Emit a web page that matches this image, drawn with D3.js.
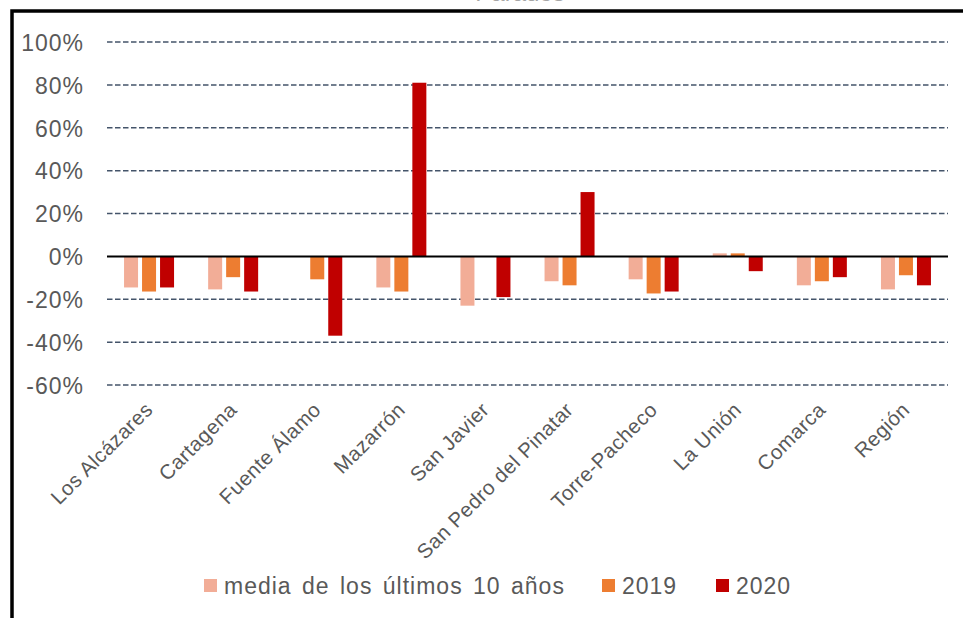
<!DOCTYPE html>
<html>
<head>
<meta charset="utf-8">
<script src="https://cdn.jsdelivr.net/npm/d3@7"></script>
<style>
  body { margin: 0; background: #fff; }
  svg { display: block; font-family: Arial, "Liberation Sans", sans-serif; }
</style>
</head>
<body>
<script>
// datos
var municipios = ["Los Alcázares", "Cartagena", "Fuente Álamo", "Mazarrón", "San Javier",
                  "San Pedro del Pinatar", "Torre-Pacheco", "La Unión", "Comarca", "Región"];
var series = ["media de los últimos 10 años", "2019", "2020"];
var media10 = [-14.5, -15.4, 0, -14.5, -23, -11.6, -10.7, 1.4, -13.5, -15.4];
var v2019 = [-16.4, -9.7, -10.7, -16.4, 0, -13.5, -17.3, 1.4, -11.6, -8.8];
var v2020 = [-14.5, -16.4, -37, 81, -19, 30, -16.4, -6.9, -9.7, -13.5];
var yTicks = [-60, -40, -20, 0, 20, 40, 60, 80, 100];
var colores = ["#F2AD97", "#ED7D31", "#C00000"];

var width = 963, height = 618;

var svg = d3.select("body").append("svg")
  .attr("width", width)
  .attr("height", height);

// marco del gráfico (recortado)
svg.append("rect")
  .attr("x", 12).attr("y", 11)
  .attr("width", 1000).attr("height", 700)
  .attr("fill", "none")
  .attr("stroke", "#000")
  .attr("stroke-width", 3.5);

// título cortado arriba
svg.append("text")
  .attr("x", 520).attr("y", 0.5)
  .attr("text-anchor", "middle")
  .style("font-size", "24px")
  .style("fill", "#a6a6a6")
  .text("Parados");

var x0 = d3.scaleBand().domain(municipios).range([107, 948]).padding(0);
var x1 = d3.scaleBand().domain(series).range([-27, 27])
  .paddingInner(0.222).paddingOuter(0.111);
var y = d3.scaleLinear().domain([-60, 100]).range([385, 42]);

// rejilla
svg.append("g")
  .selectAll("line")
  .data(yTicks.filter(function(d) { return d !== 0; }))
  .enter().append("line")
  .attr("x1", 107).attr("x2", 948)
  .attr("y1", function(d) { return y(d); })
  .attr("y2", function(d) { return y(d); })
  .attr("stroke", "#44546A")
  .attr("stroke-width", 1.5)
  .attr("stroke-dasharray", "5.5,2.5");

// eje y
var yAxis = svg.append("g")
  .attr("transform", "translate(84,0)")
  .call(d3.axisLeft(y).tickValues(yTicks).tickSize(0).tickPadding(0)
    .tickFormat(function(d) { return d + "%"; }));
yAxis.select(".domain").remove();
yAxis.selectAll("text")
  .attr("dy", "0.36em")
  .style("font-size", "23px")
  .style("letter-spacing", "1px")
  .style("fill", "#595959")
  .style("font-family", "Arial, 'Liberation Sans', sans-serif");

// barras
var valores = [media10, v2019, v2020];
var filas = municipios.map(function(m, i) {
  return { nombre: m, vals: series.map(function(s, j) { return { serie: s, idx: j, v: valores[j][i] }; }) };
});

var grupos = svg.selectAll(".grupo")
  .data(filas)
  .enter().append("g")
  .attr("class", "grupo")
  .attr("transform", function(d) { return "translate(" + (x0(d.nombre) + x0.bandwidth() / 2) + ",0)"; });

grupos.selectAll("rect")
  .data(function(d) { return d.vals; })
  .enter().append("rect")
  .attr("x", function(d) { return x1(d.serie); })
  .attr("width", x1.bandwidth())
  .attr("y", function(d) { return y(Math.max(0, d.v)); })
  .attr("height", function(d) { return Math.abs(y(d.v) - y(0)); })
  .attr("fill", function(d) { return colores[d.idx]; });

// línea del cero
svg.append("line")
  .attr("x1", 107).attr("x2", 948)
  .attr("y1", y(0)).attr("y2", y(0))
  .attr("stroke", "#000")
  .attr("stroke-width", 2);

// etiquetas de categorías
svg.append("g")
  .selectAll("text")
  .data(municipios)
  .enter().append("text")
  .attr("transform", function(d) {
    return "translate(" + (x0(d) + x0.bandwidth() / 2 + 5) + ",411) rotate(-45)";
  })
  .attr("text-anchor", "end")
  .style("font-size", "20.5px")
  .style("letter-spacing", "0.5px")
  .style("fill", "#595959")
  .text(function(d) { return d; });

// leyenda
var leyX = [204, 602, 716];
var ley = svg.append("g").selectAll("g")
  .data(series)
  .enter().append("g")
  .attr("transform", function(d, i) { return "translate(" + leyX[i] + ",579)"; });
ley.append("rect")
  .attr("width", 13).attr("height", 13)
  .attr("fill", function(d, i) { return colores[i]; });
ley.append("text")
  .attr("x", 20).attr("y", 15)
  .style("font-size", "23px")
  .style("letter-spacing", "1px")
  .style("word-spacing", "3px")
  .style("fill", "#595959")
  .text(function(d) { return d; });
</script>
</body>
</html>
